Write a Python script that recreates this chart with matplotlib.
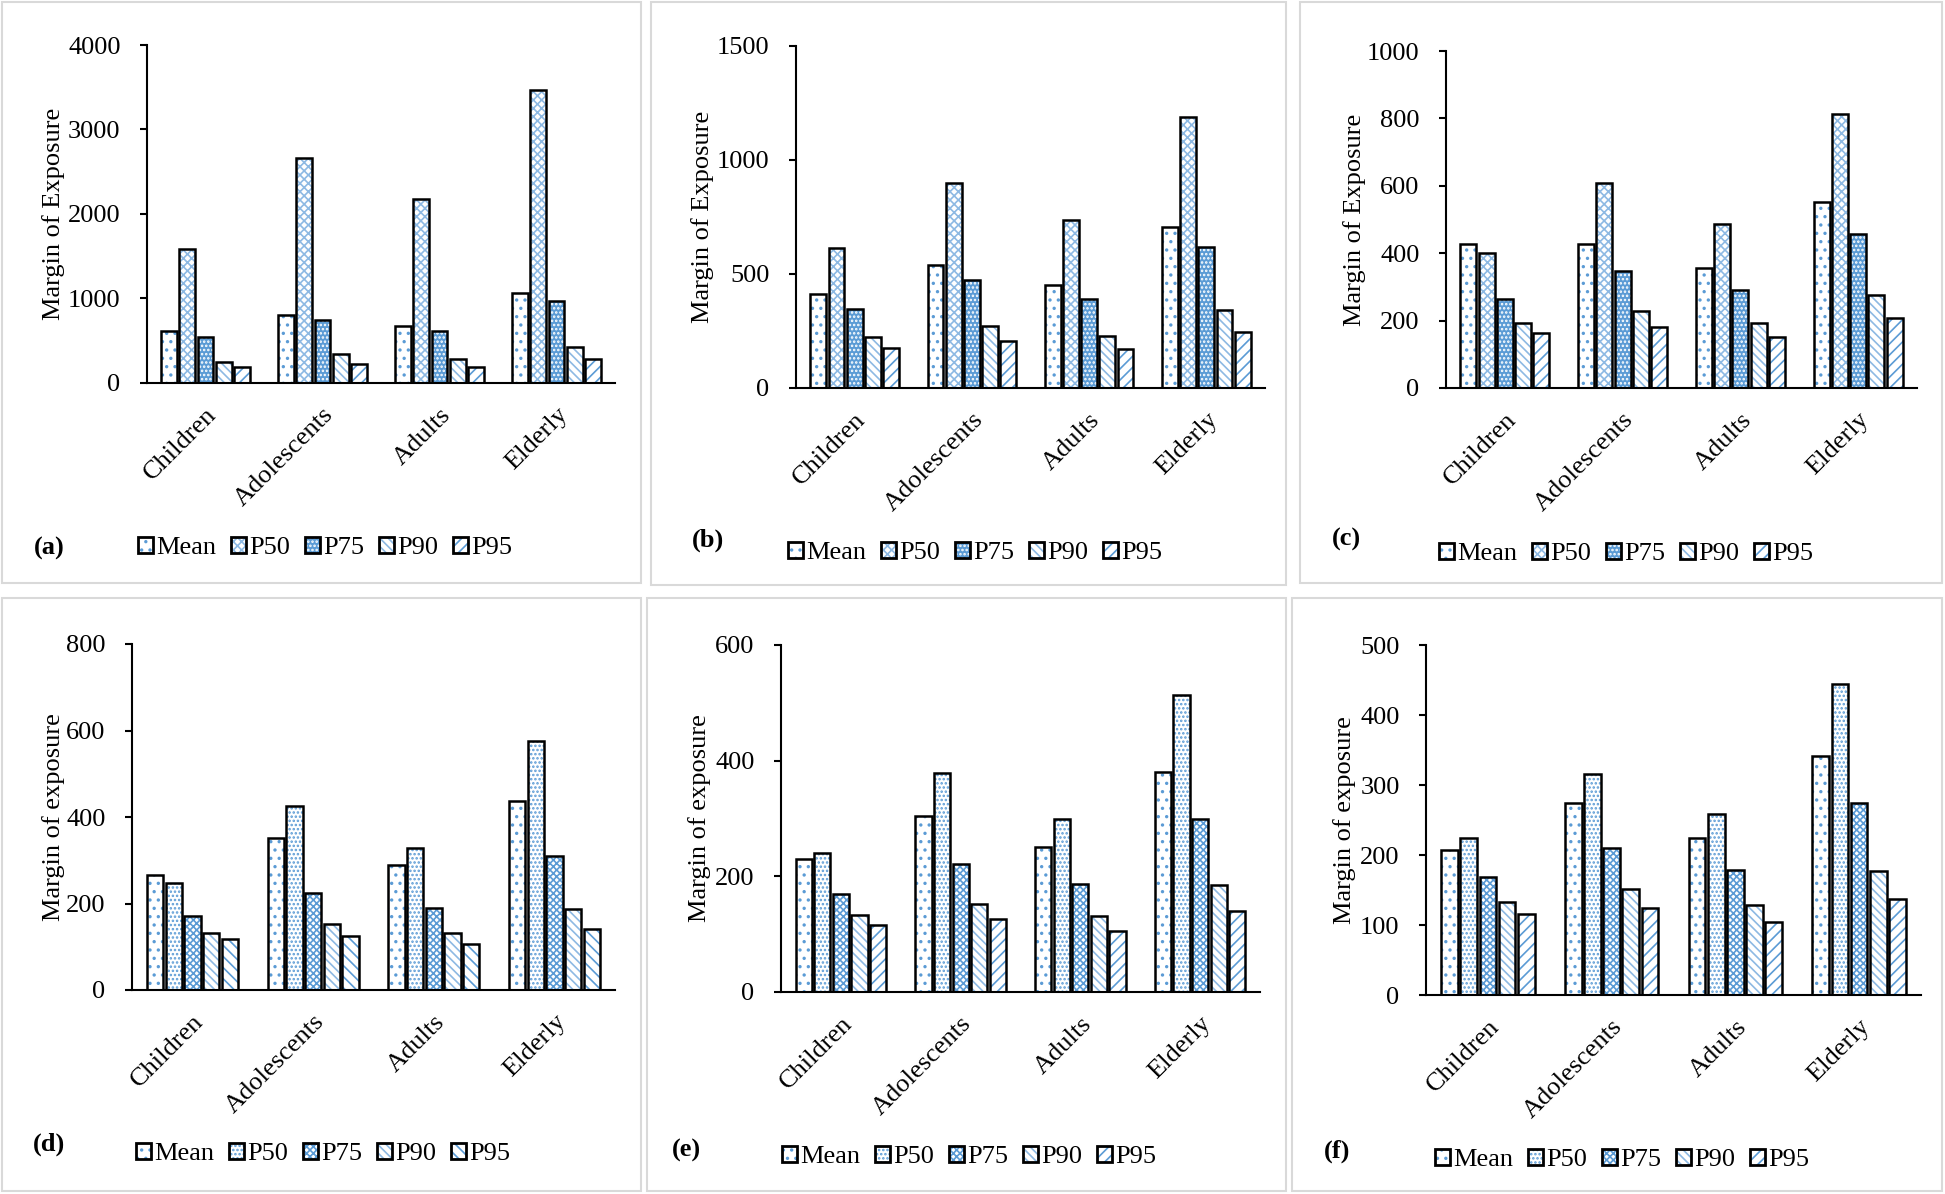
import matplotlib
matplotlib.use("Agg")
import matplotlib.pyplot as plt
from matplotlib.patches import Rectangle, Patch
from matplotlib.legend_handler import HandlerTuple
from matplotlib.transforms import ScaledTranslation
import numpy as np

plt.rcParams["font.family"] = ["Liberation Serif", "DejaVu Serif"]
plt.rcParams["hatch.linewidth"] = 1.2

# ---- data (rows: Mean, P50, P75, P90, P95; columns follow groups) ----
groups = ["Children", "Adolescents", "Adults", "Elderly"]
series = ["Mean", "P50", "P75", "P90", "P95"]

moe_a = [[614, 799, 677, 1070],
         [1580, 2664, 2172, 3472],
         [546, 745, 619, 975],
         [248, 339, 280, 424],
         [185, 221, 185, 284]]
moe_b = [[413, 541, 453, 705],
         [615, 900, 737, 1189],
         [346, 473, 389, 620],
         [222, 274, 230, 342],
         [174, 204, 170, 244]]
moe_c = [[426, 426, 357, 551],
         [400, 608, 488, 814],
         [263, 346, 290, 458],
         [193, 228, 193, 277],
         [162, 181, 150, 207]]
moe_d = [[266, 352, 290, 438],
         [248, 425, 328, 575],
         [171, 225, 189, 310],
         [132, 152, 131, 187],
         [117, 125, 107, 142]]
moe_e = [[230, 305, 251, 381],
         [241, 379, 299, 513],
         [170, 221, 187, 299],
         [133, 153, 131, 185],
         [116, 126, 106, 140]]
moe_f = [[207, 275, 225, 341],
         [224, 316, 259, 444],
         [169, 210, 178, 275],
         [133, 151, 128, 177],
         [116, 125, 104, 137]]

ymax = [4000, 1500, 1000, 800, 600, 500]
ystep = [1000, 500, 200, 200, 200, 100]
ylabels = ["Margin of Exposure"] * 3 + ["Margin of exposure"] * 3
tags = ["(a)", "(b)", "(c)", "(d)", "(e)", "(f)"]

# ---- styles: (facecolor, hatch colour, hatch) per series ----
BLUE = "#5B9BD5"
LIGHT = "#8DB9E3"
style_top = [("white", BLUE, ".."),
             ("white", LIGHT, "xxxx"),
             (BLUE, "white", "...."),
             ("white", LIGHT, "\\\\\\\\"),
             ("white", BLUE, "///")]
style_bottom = [("white", BLUE, ".."),
                ("white", BLUE, "...."),
                ("white", BLUE, "xxxxx"),
                ("white", LIGHT, "\\\\\\\\"),
                ("white", BLUE, "\\\\\\")]
style_bottom2 = style_bottom[:4] + [("white", BLUE, "///")]

FS = 19

# ---- layout in pixels ----
W, H = 1945, 1194
# axes: left, right, top, zero-line
axes_px = [(147, 615, 45, 383), (796, 1265, 46, 388), (1446, 1917, 51, 388),
           (132, 615, 644, 990), (781, 1260, 645, 992), (1426, 1921, 645, 995)]
ylab_x = [54, 703, 1355, 54, 700, 1345]
legend_px = [(138, 548), (788, 553), (1439, 554), (136, 1154), (782, 1157), (1435, 1160)]
tag_px = [(49, 548), (708, 540), (1346, 539), (49, 1144), (686, 1150), (1337, 1151)]
box_px = [(2, 2, 641, 583), (651, 2, 1286, 585), (1300, 2, 1942, 583),
          (2, 598, 641, 1191), (647, 598, 1286, 1191), (1292, 598, 1942, 1191)]

fig = plt.figure(figsize=(W / 100, H / 100), dpi=100)

for x0, y0, x1, y1 in box_px:
    fig.add_artist(Rectangle((x0 / W, 1 - y1 / H), (x1 - x0) / W, (y1 - y0) / H,
                             transform=fig.transFigure, fill=False,
                             edgecolor="#d9d9d9", linewidth=1.5))

panels = [moe_a, moe_b, moe_c, moe_d, moe_e, moe_f]
styles = [style_top, style_top, style_top, style_bottom, style_bottom2, style_bottom2]

x = np.arange(len(groups))
step = 0.155
width = 0.135

for i, data in enumerate(panels):
    L, R, T, B = axes_px[i]
    ax = fig.add_axes([L / W, 1 - B / H, (R - L) / W, (B - T) / H])
    handles = []
    for j, vals in enumerate(data):
        fc, hc, hatch = styles[i][j]
        pos = x + (j - 2) * step
        ax.bar(pos, vals, width, color=fc, edgecolor=hc, hatch=hatch, linewidth=0)
        ax.bar(pos, vals, width, color="none", edgecolor="black", linewidth=1.8)
        handles.append((Patch(facecolor=fc, edgecolor=hc, hatch=hatch, linewidth=0),
                        Patch(facecolor="none", edgecolor="black", linewidth=2)))

    ax.set_xlim(-0.5, len(groups) - 0.5)
    ax.set_ylim(0, ymax[i])
    ax.set_yticks(np.arange(0, ymax[i] + 1, ystep[i]))
    ax.set_xticks(x)
    ax.set_xticklabels(groups, rotation=45, ha="right", va="top",
                       rotation_mode="anchor", fontsize=FS)
    off = ScaledTranslation(6 / 100, 0, fig.dpi_scale_trans)
    for lab in ax.get_xticklabels():
        lab.set_transform(lab.get_transform() + off)
    ax.tick_params(axis="x", length=0, pad=15)
    ax.tick_params(axis="y", direction="out", length=5, width=1.5, pad=14,
                   labelsize=FS)
    for s in ["top", "right"]:
        ax.spines[s].set_visible(False)
    ax.spines["left"].set_linewidth(1.5)
    ax.spines["bottom"].set_linewidth(1.5)

    ax.set_ylabel(ylabels[i], fontsize=FS)
    ax.yaxis.label.set_verticalalignment("center")
    ax.yaxis.set_label_coords(-(L - ylab_x[i]) / (R - L), 0.5)

    lx, ly = legend_px[i]
    fig.legend(handles, series, loc="center left",
               bbox_to_anchor=(lx / W, 1 - ly / H), ncol=5, frameon=False,
               fontsize=FS, handler_map={tuple: HandlerTuple(ndivide=1)},
               handlelength=0.58, handleheight=0.58, handletextpad=0.12,
               columnspacing=0.55, borderpad=0, borderaxespad=0)

    tx, ty = tag_px[i]
    fig.text(tx / W, 1 - ty / H, tags[i], fontsize=FS, fontweight="bold",
             ha="center", va="center")

fig.savefig("out.png", dpi=100, facecolor="white")
